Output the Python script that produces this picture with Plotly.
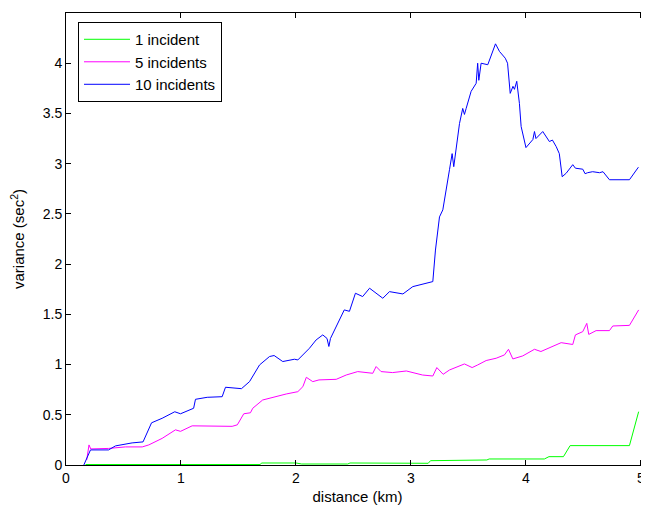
import plotly.graph_objects as go

# ---- data ----
x_10 = [0.155,0.213,0.37,0.43,0.575,0.67,0.744,0.836,0.946,0.996,1.11,1.126,1.228,1.358,1.387,1.526,
        1.596,1.683,1.77,1.81,1.885,1.987,2.016,2.06,2.117,2.175,2.233,2.27,2.286,2.30,2.335,2.378,
        2.42,2.465,2.517,2.58,2.64,2.755,2.813,2.93,3.016,3.19,3.213,3.248,3.277,3.335,3.358,3.372,
        3.386,3.422,3.45,3.465,3.48,3.523,3.567,3.58,3.59,3.61,3.668,3.735,3.77,3.82,3.84,3.863,
        3.887,3.9,3.92,3.943,3.958,4.0,4.06,4.074,4.087,4.146,4.204,4.23,4.263,4.29,4.315,4.35,
        4.407,4.43,4.494,4.514,4.536,4.58,4.64,4.67,4.726,4.9,4.978]
y_10 = [0,0.15,0.15,0.19,0.22,0.23,0.42,0.465,0.53,0.51,0.565,0.654,0.674,0.68,0.774,0.76,
        0.83,0.996,1.08,1.09,1.03,1.053,1.046,1.096,1.162,1.245,1.295,1.26,1.18,1.26,1.345,1.444,
        1.544,1.53,1.71,1.677,1.76,1.66,1.726,1.703,1.776,1.826,2.14,2.47,2.54,2.94,3.10,2.97,
        3.1,3.40,3.55,3.49,3.55,3.72,3.80,4.0,3.83,4.0,3.985,4.193,4.117,4.05,4.0,3.70,
        3.77,3.74,3.82,3.60,3.37,3.16,3.24,3.32,3.25,3.32,3.22,3.235,3.17,3.10,2.87,2.905,
        2.99,2.955,2.945,2.90,2.91,2.92,2.91,2.92,2.84,2.84,2.965]

x_5 = [0.18,0.2,0.215,0.228,0.37,0.517,0.663,0.72,0.836,0.952,0.996,1.097,1.27,1.445,1.49,1.537,
       1.546,1.604,1.624,1.71,1.8,1.915,2.016,2.06,2.09,2.146,2.2,2.35,2.437,2.537,2.668,2.697,
       2.74,2.84,2.96,3.0,3.1,3.19,3.225,3.28,3.335,3.465,3.532,3.58,3.654,3.741,3.813,3.848,
       3.886,3.972,4.074,4.13,4.233,4.306,4.407,4.43,4.494,4.529,4.546,4.61,4.726,4.755,4.9,4.98]
y_5 = [0.05,0.2,0.16,0.16,0.165,0.18,0.18,0.2,0.265,0.35,0.335,0.39,0.385,0.385,0.4,0.498,
       0.51,0.52,0.565,0.647,0.674,0.707,0.73,0.78,0.873,0.83,0.847,0.853,0.896,0.93,0.913,0.98,
       0.93,0.92,0.936,0.926,0.896,0.886,0.97,0.903,0.946,1.006,0.97,0.996,1.04,1.063,1.096,1.152,
       1.056,1.086,1.152,1.13,1.185,1.218,1.2,1.295,1.328,1.41,1.3,1.338,1.338,1.384,1.39,1.544]

x_1 = [0.17,1.69,1.70,2.0,2.05,2.1,2.45,2.47,3.0,3.15,3.17,3.66,3.68,4.16,4.2,4.326,4.384,4.9,4.98]
y_1 = [0.005,0.005,0.02,0.02,0.01,0.01,0.01,0.02,0.02,0.017,0.043,0.05,0.06,0.06,0.083,0.083,0.193,0.193,0.531]

series = [("1 incident", x_1, y_1, "#00ff00"),
          ("5 incidents", x_5, y_5, "#ff00ff"),
          ("10 incidents", x_10, y_10, "#0000ff")]

FONT = "Liberation Sans, Arial, sans-serif"

fig = go.Figure()
for name, xs, ys, col in series:
    fig.add_trace(go.Scatter(x=xs, y=ys, mode="lines", name=name,
                             line=dict(color=col, width=1)))

axis_common = dict(showgrid=False, zeroline=False, showline=True, linecolor="black",
                   linewidth=1, mirror="ticks", ticks="inside", ticklen=5,
                   tickcolor="black", automargin=False,
                   tickfont=dict(family=FONT, size=14, color="black"))

# page body has an 8px default margin, so the figure is 8px smaller and offset
fig.update_layout(
    width=641, height=507,
    margin=dict(l=58, r=0, t=5, b=50),
    paper_bgcolor="white", plot_bgcolor="white",
    font=dict(family=FONT, size=14, color="black"),
    xaxis=dict(range=[0, 5.07], tickvals=[0, 1, 2, 3, 4, 5],
               title=dict(text="distance (km)", standoff=6,
                          font=dict(family=FONT, size=15)), **axis_common),
    yaxis=dict(range=[0, 4.5], dtick=0.5, tick0=0,
               title=dict(text="variance (sec<sup>2</sup>)", standoff=14,
                          font=dict(family=FONT, size=15)), **axis_common),
    legend=dict(x=0.0206, y=0.98, xanchor="left", yanchor="top",
                bgcolor="white", bordercolor="black", borderwidth=1,
                font=dict(family=FONT, size=15, color="black"),
                itemwidth=46, tracegroupgap=0),
    showlegend=True,
)

fig.write_html("out.html")
